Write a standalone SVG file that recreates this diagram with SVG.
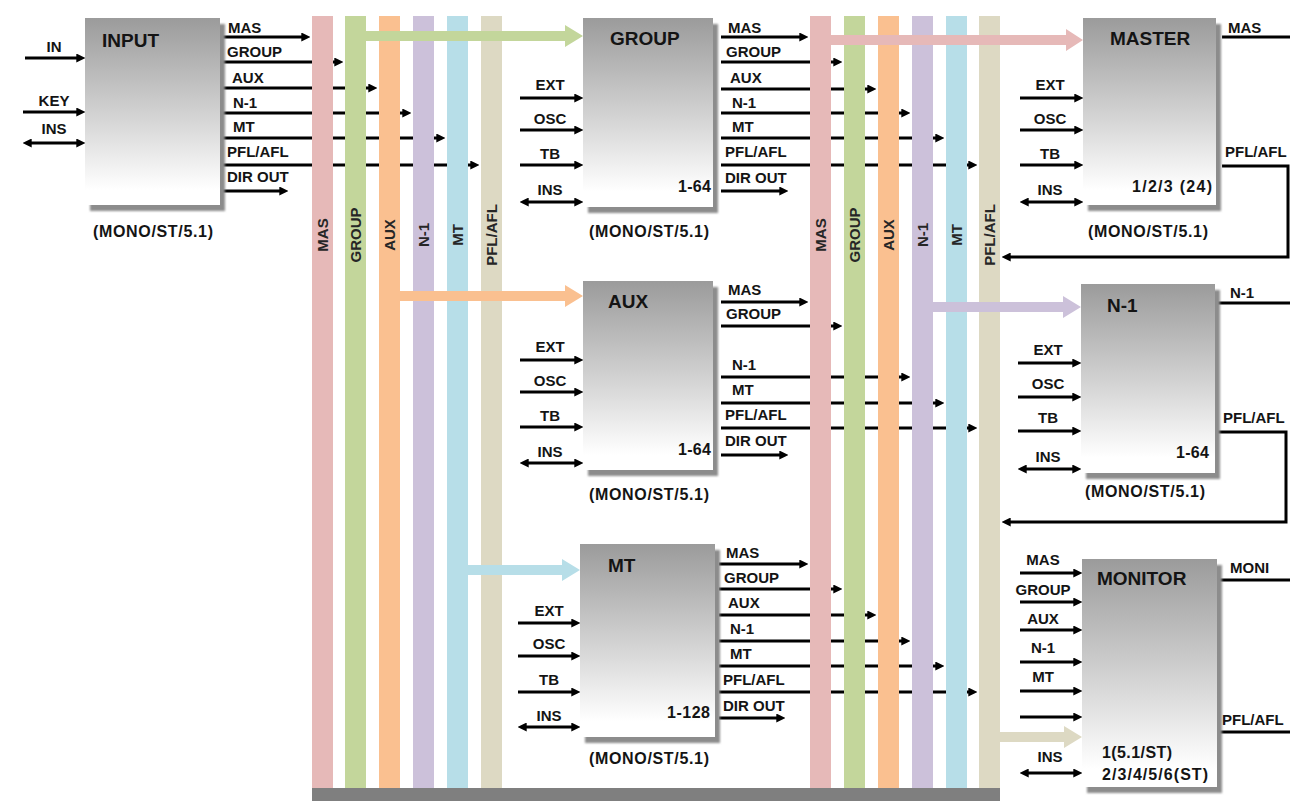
<svg xmlns="http://www.w3.org/2000/svg" width="1290" height="801" viewBox="0 0 1290 801">
  <defs>
    <linearGradient id="blockFill" x1="0" y1="0" x2="0" y2="1">
      <stop offset="0" stop-color="#9b9b9b"/>
      <stop offset="0.55" stop-color="#d6d6d6"/>
      <stop offset="0.92" stop-color="#ffffff"/>
    </linearGradient>
    <filter id="soft" x="-10%" y="-10%" width="120%" height="120%">
      <feGaussianBlur stdDeviation="1"/>
    </filter>
    <marker id="arr" viewBox="0 0 10 10" refX="3" refY="5" markerWidth="9" markerHeight="9" markerUnits="userSpaceOnUse" orient="auto-start-reverse">
      <path d="M0,0 L10,5 L0,10 z" fill="#000"/>
    </marker>
  </defs>
  <style>
    text { font-family: "Liberation Sans", Arial, sans-serif; font-weight: bold; font-size: 15px; fill: #141414; }
    .title { font-size: 19px; }
    .num { font-size: 16px; }
    .mid { text-anchor: middle; }
    .end { text-anchor: end; }
    .bl { font-size: 15px; fill: #262626; text-anchor: middle; }
    .ln { fill: none; stroke: #000; stroke-width: 3; }
    .a { marker-end: url(#arr); }
    .aa { marker-start: url(#arr); marker-end: url(#arr); }
    .shadow { fill: #8c8c8c; filter: url(#soft); }
    .box { fill: url(#blockFill); }
  </style>

  <rect width="1290" height="801" fill="#ffffff"/>

  <!-- signal lines (drawn beneath the buses) -->
  <g id="connectors">
    <!-- INPUT -->
    <path class="ln a" d="M25,58 H79"/>
    <path class="ln a" d="M23,112 H79"/>
    <path class="ln aa" d="M29,143 H79"/>
    <path class="ln a" d="M222,37 H304"/>
    <path class="ln a" d="M222,62 H337"/>
    <path class="ln a" d="M222,88 H371"/>
    <path class="ln a" d="M222,113 H405"/>
    <path class="ln a" d="M222,138 H439"/>
    <path class="ln a" d="M222,165 H473"/>
    <path class="ln a" d="M222,191 H282"/>
    <!-- GROUP -->
    <path class="ln a" d="M520,98 H577"/>
    <path class="ln a" d="M520,130 H577"/>
    <path class="ln a" d="M520,165 H577"/>
    <path class="ln aa" d="M526,202 H577"/>
    <path class="ln a" d="M721,37 H802"/>
    <path class="ln a" d="M721,62 H836"/>
    <path class="ln a" d="M721,89 H870"/>
    <path class="ln a" d="M721,113 H904"/>
    <path class="ln a" d="M721,138 H938"/>
    <path class="ln a" d="M721,165 H971"/>
    <path class="ln a" d="M721,191 H782"/>
    <!-- MASTER -->
    <path class="ln a" d="M1020,98 H1077"/>
    <path class="ln a" d="M1020,130 H1077"/>
    <path class="ln a" d="M1020,165 H1077"/>
    <path class="ln aa" d="M1026,202 H1077"/>
    <path class="ln" d="M1222,37 H1290"/>
    <path class="ln a" d="M1222,166 H1288 V257 H1008"/>
    <!-- AUX -->
    <path class="ln a" d="M520,360 H577"/>
    <path class="ln a" d="M520,392 H577"/>
    <path class="ln a" d="M520,427 H577"/>
    <path class="ln aa" d="M526,463 H577"/>
    <path class="ln a" d="M721,302 H802"/>
    <path class="ln a" d="M721,326 H836"/>
    <path class="ln a" d="M721,377 H904"/>
    <path class="ln a" d="M721,403 H938"/>
    <path class="ln a" d="M721,428 H971"/>
    <path class="ln a" d="M721,455 H782"/>
    <!-- N-1 -->
    <path class="ln a" d="M1018,363 H1075"/>
    <path class="ln a" d="M1018,397 H1075"/>
    <path class="ln a" d="M1018,431 H1075"/>
    <path class="ln aa" d="M1024,469 H1075"/>
    <path class="ln" d="M1218,303 H1290"/>
    <path class="ln a" d="M1218,432 H1286 V522 H1008"/>
    <!-- MT -->
    <path class="ln a" d="M518,623 H574"/>
    <path class="ln a" d="M518,656 H574"/>
    <path class="ln a" d="M518,692 H574"/>
    <path class="ln aa" d="M524,727 H574"/>
    <path class="ln a" d="M719,564 H802"/>
    <path class="ln a" d="M719,589 H836"/>
    <path class="ln a" d="M719,615 H870"/>
    <path class="ln a" d="M719,641 H904"/>
    <path class="ln a" d="M719,666 H938"/>
    <path class="ln a" d="M719,692 H971"/>
    <path class="ln a" d="M719,718 H779"/>
    <!-- MONITOR -->
    <path class="ln a" d="M1020,573 H1076"/>
    <path class="ln a" d="M1020,602 H1076"/>
    <path class="ln a" d="M1020,630 H1076"/>
    <path class="ln a" d="M1020,662 H1076"/>
    <path class="ln a" d="M1020,691 H1076"/>
    <path class="ln a" d="M1020,717 H1076"/>
    <path class="ln aa" d="M1026,773 H1076"/>
    <path class="ln" d="M1220,580 H1290"/>
    <path class="ln" d="M1220,732 H1290"/>
  </g>

  <!-- summing buses -->
  <g id="buses">
    <g id="bus-left-mas"><rect x="312" y="16" width="21" height="772" fill="#E6B9B8"/><text class="bl" transform="translate(328,235) rotate(-90)">MAS</text></g>
    <g id="bus-left-group"><rect x="345" y="16" width="21" height="772" fill="#C3D69B"/><text class="bl" transform="translate(361,235) rotate(-90)">GROUP</text></g>
    <g id="bus-left-aux"><rect x="379" y="16" width="21" height="772" fill="#FAC090"/><text class="bl" transform="translate(395,235) rotate(-90)">AUX</text></g>
    <g id="bus-left-n1"><rect x="413" y="16" width="21" height="772" fill="#CCC1DA"/><text class="bl" transform="translate(429,235) rotate(-90)">N-1</text></g>
    <g id="bus-left-mt"><rect x="447" y="16" width="21" height="772" fill="#B7DEE8"/><text class="bl" transform="translate(463,235) rotate(-90)">MT</text></g>
    <g id="bus-left-pfl"><rect x="481" y="16" width="21" height="772" fill="#DDD9C3"/><text class="bl" transform="translate(497,235) rotate(-90)">PFL/AFL</text></g>

    <g id="bus-right-mas"><rect x="810" y="16" width="21" height="772" fill="#E6B9B8"/><text class="bl" transform="translate(826,235) rotate(-90)">MAS</text></g>
    <g id="bus-right-group"><rect x="844" y="16" width="21" height="772" fill="#C3D69B"/><text class="bl" transform="translate(860,235) rotate(-90)">GROUP</text></g>
    <g id="bus-right-aux"><rect x="878" y="16" width="21" height="772" fill="#FAC090"/><text class="bl" transform="translate(894,235) rotate(-90)">AUX</text></g>
    <g id="bus-right-n1"><rect x="912" y="16" width="21" height="772" fill="#CCC1DA"/><text class="bl" transform="translate(928,235) rotate(-90)">N-1</text></g>
    <g id="bus-right-mt"><rect x="946" y="16" width="21" height="772" fill="#B7DEE8"/><text class="bl" transform="translate(962,235) rotate(-90)">MT</text></g>
    <g id="bus-right-pfl"><rect x="979" y="16" width="21" height="772" fill="#DDD9C3"/><text class="bl" transform="translate(995,235) rotate(-90)">PFL/AFL</text></g>

    <rect id="bus-base" x="312" y="788" width="688" height="13" fill="#7F7F7F"/>
  </g>

  <!-- bus feeds into the section blocks -->
  <g id="bus-feeds">
    <polygon fill="#C3D69B" points="360,31 565,31 565,25 583,36 565,47 565,41 360,41"/>
    <polygon fill="#E6B9B8" points="825,35 1066,35 1066,29 1083,40 1066,51 1066,45 825,45"/>
    <polygon fill="#FAC090" points="393,291 565,291 565,285 583,296 565,307 565,301 393,301"/>
    <polygon fill="#B7DEE8" points="462,565 562,565 562,559 580,570 562,581 562,575 462,575"/>
    <polygon fill="#CCC1DA" points="927,302 1063,302 1063,296 1081,307 1063,318 1063,312 927,312"/>
    <polygon fill="#DDD9C3" points="994,732 1064,732 1064,726 1082,737 1064,748 1064,742 994,742"/>
  </g>

  <!-- INPUT -->
  <g id="node-input">
    <rect class="shadow" x="90" y="24" width="135" height="187"/>
    <rect class="box" x="85" y="18" width="135" height="187"/>
    <text class="title" x="102" y="47">INPUT</text>
    <text class="num" x="93" y="237" textLength="120" lengthAdjust="spacing">(MONO/ST/5.1)</text>
    <text class="mid" x="54" y="52">IN</text>
    <text class="mid" x="54" y="106">KEY</text>
    <text class="mid" x="54" y="134">INS</text>
    <text x="228" y="33">MAS</text>
    <text x="227" y="57">GROUP</text>
    <text x="232" y="83">AUX</text>
    <text x="233" y="108">N-1</text>
    <text x="233" y="132">MT</text>
    <text x="227" y="157">PFL/AFL</text>
    <text x="227" y="182">DIR OUT</text>
  </g>

  <!-- GROUP -->
  <g id="node-group">
    <rect class="shadow" x="588" y="24" width="130" height="189"/>
    <rect class="box" x="583" y="18" width="130" height="189"/>
    <text class="title" x="610" y="45">GROUP</text>
    <text class="num" x="678" y="192" textLength="33" lengthAdjust="spacing">1-64</text>
    <text class="num" x="589" y="237" textLength="120" lengthAdjust="spacing">(MONO/ST/5.1)</text>
    <text class="mid" x="550" y="90">EXT</text>
    <text class="mid" x="550" y="124">OSC</text>
    <text class="mid" x="550" y="159">TB</text>
    <text class="mid" x="550" y="195">INS</text>
    <text x="728" y="33">MAS</text>
    <text x="726" y="57">GROUP</text>
    <text x="730" y="83">AUX</text>
    <text x="732" y="108">N-1</text>
    <text x="732" y="132">MT</text>
    <text x="725" y="157">PFL/AFL</text>
    <text x="725" y="183">DIR OUT</text>
  </g>

  <!-- MASTER -->
  <g id="node-master">
    <rect class="shadow" x="1088" y="24" width="133" height="187"/>
    <rect class="box" x="1083" y="18" width="133" height="187"/>
    <text class="title" x="1110" y="45">MASTER</text>
    <text class="num" x="1132" y="192" textLength="80" lengthAdjust="spacing">1/2/3 (24)</text>
    <text class="num" x="1088" y="237" textLength="120" lengthAdjust="spacing">(MONO/ST/5.1)</text>
    <text class="mid" x="1050" y="90">EXT</text>
    <text class="mid" x="1050" y="124">OSC</text>
    <text class="mid" x="1050" y="159">TB</text>
    <text class="mid" x="1050" y="195">INS</text>
    <text x="1228" y="33">MAS</text>
    <text x="1225" y="157">PFL/AFL</text>
  </g>

  <!-- AUX -->
  <g id="node-aux">
    <rect class="shadow" x="588" y="287" width="130" height="189"/>
    <rect class="box" x="583" y="281" width="130" height="189"/>
    <text class="title" x="608" y="308">AUX</text>
    <text class="num" x="678" y="455" textLength="33" lengthAdjust="spacing">1-64</text>
    <text class="num" x="589" y="500" textLength="120" lengthAdjust="spacing">(MONO/ST/5.1)</text>
    <text class="mid" x="550" y="352">EXT</text>
    <text class="mid" x="550" y="386">OSC</text>
    <text class="mid" x="550" y="421">TB</text>
    <text class="mid" x="550" y="457">INS</text>
    <text x="728" y="295">MAS</text>
    <text x="726" y="319">GROUP</text>
    <text x="732" y="370">N-1</text>
    <text x="732" y="395">MT</text>
    <text x="725" y="420">PFL/AFL</text>
    <text x="725" y="446">DIR OUT</text>
  </g>

  <!-- N-1 -->
  <g id="node-n1">
    <rect class="shadow" x="1086" y="290" width="134" height="189"/>
    <rect class="box" x="1081" y="284" width="134" height="189"/>
    <text class="title" x="1107" y="312">N-1</text>
    <text class="num" x="1176" y="458" textLength="33" lengthAdjust="spacing">1-64</text>
    <text class="num" x="1085" y="497" textLength="120" lengthAdjust="spacing">(MONO/ST/5.1)</text>
    <text class="mid" x="1048" y="355">EXT</text>
    <text class="mid" x="1048" y="389">OSC</text>
    <text class="mid" x="1048" y="423">TB</text>
    <text class="mid" x="1048" y="462">INS</text>
    <text x="1230" y="298">N-1</text>
    <text x="1223" y="423">PFL/AFL</text>
  </g>

  <!-- MT -->
  <g id="node-mt">
    <rect class="shadow" x="585" y="550" width="135" height="193"/>
    <rect class="box" x="580" y="544" width="135" height="193"/>
    <text class="title" x="608" y="572">MT</text>
    <text class="num" x="667" y="718" textLength="43" lengthAdjust="spacing">1-128</text>
    <text class="num" x="589" y="764" textLength="120" lengthAdjust="spacing">(MONO/ST/5.1)</text>
    <text class="mid" x="549" y="616">EXT</text>
    <text class="mid" x="549" y="649">OSC</text>
    <text class="mid" x="549" y="685">TB</text>
    <text class="mid" x="549" y="721">INS</text>
    <text x="726" y="558">MAS</text>
    <text x="724" y="583">GROUP</text>
    <text x="728" y="608">AUX</text>
    <text x="730" y="634">N-1</text>
    <text x="730" y="659">MT</text>
    <text x="723" y="685">PFL/AFL</text>
    <text x="723" y="711">DIR OUT</text>
  </g>

  <!-- MONITOR -->
  <g id="node-monitor">
    <rect class="shadow" x="1087" y="565" width="135" height="228"/>
    <rect class="box" x="1082" y="559" width="135" height="228"/>
    <text class="title" x="1097" y="585">MONITOR</text>
    <text class="num" x="1102" y="758" textLength="70" lengthAdjust="spacing">1(5.1/ST)</text>
    <text class="num" x="1102" y="780" textLength="106" lengthAdjust="spacing">2/3/4/5/6(ST)</text>
    <text class="mid" x="1043" y="565">MAS</text>
    <text class="mid" x="1043" y="595">GROUP</text>
    <text class="mid" x="1043" y="624">AUX</text>
    <text class="mid" x="1043" y="653">N-1</text>
    <text class="mid" x="1043" y="682">MT</text>
    <text class="mid" x="1050" y="762">INS</text>
    <text x="1230" y="573">MONI</text>
    <text x="1222" y="725">PFL/AFL</text>
  </g>
</svg>
